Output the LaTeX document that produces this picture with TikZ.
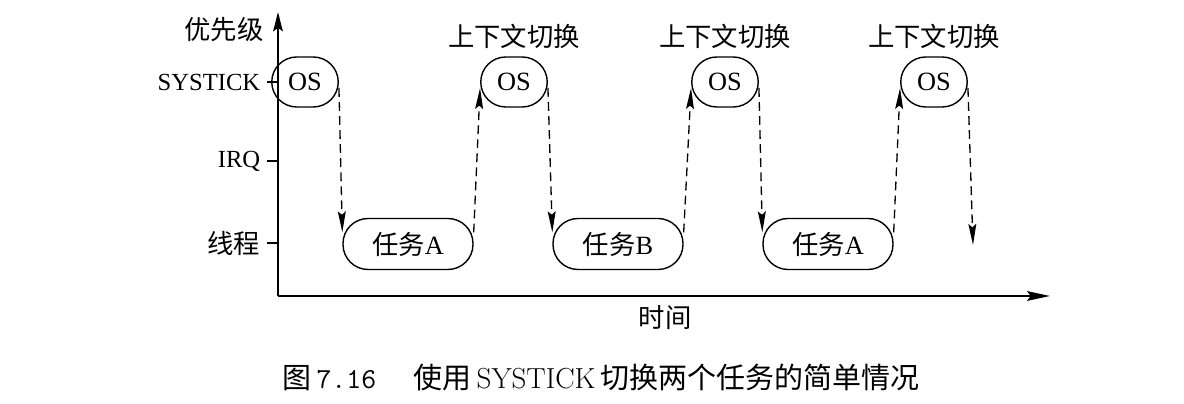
\documentclass[tikz,border=0pt]{standalone}
\usepackage{fontspec}
\newfontfamily\tnr{Liberation Serif}
\newfontfamily\cjk{Noto Sans CJK SC}
\usetikzlibrary{arrows.meta,positioning}
\tikzset{>=Stealth,every node/.style={font=\fontsize{14}{16}\selectfont\tnr},
  osbox/.style={draw,line width=.8pt,rounded corners=.5cm,minimum width=1.33cm,minimum height=1cm,inner sep=0pt,font=\fontsize{15}{17}\selectfont\tnr},
  taskbox/.style={osbox,minimum width=2.6cm,minimum height=1.02cm},
  switch/.style={dashed,dash pattern=on 5pt off 3pt,line width=.75pt,-{Stealth[length=12pt,width=4.5pt,inset=2pt]}},
  axis/.style={line width=1.1pt},
  cn/.style={font=\fontsize{15}{17}\selectfont\cjk}}
\begin{document}
\begin{tikzpicture}[x=.02cm,y=-.02cm]
\useasboundingbox (0,0) rectangle (1184,404);
% axes
\coordinate (origin) at (278,296);\coordinate (ytop) at (278,12);\coordinate (xend) at (1050,296);
\draw[axis,-{Stealth[length=11pt,width=5.5pt,inset=2pt]}] (origin)--(ytop);
\draw[axis,-{Stealth[length=13pt,width=5.5pt,inset=2pt]}] (origin)--(xend);
\node[cn] (prio) at (224,30){优先级};\node[cn] (time) at (665,318){时间};
\draw[axis] (267,82)--(278,82) node[pos=0,left=0pt] (lsys){SYSTICK};
\draw[axis] (267,161)--(278,161) node[pos=0,left=0pt] (lirq){IRQ};
\draw[axis] (267,243)--(278,243) node[pos=0,left=0pt,cn] (lthr){线程};
% OS and tasks
\node[osbox] (os1) at (305,82){OS};\node[osbox] (os2) at (514,82){OS};
\node[osbox] (os3) at (725,82){OS};\node[osbox] (os4) at (934,82){OS};
\node[taskbox] (ta1) at (408,244){{\cjk 任务}A};\node[taskbox] (tb) at (618,244){{\cjk 任务}B};
\node[taskbox] (ta2) at (828,244){{\cjk 任务}A};
\foreach \o in {os2,os3,os4}\node[cn,above=1pt of \o] (ctx-\o){上下文切换};
\coordinate (tail) at (973,245);
\draw[switch] (os1.-10)--(ta1.170);\draw[switch] (ta1.10)--(os2.190);
\draw[switch] (os2.-10)--(tb.170);\draw[switch] (tb.10)--(os3.190);
\draw[switch] (os3.-10)--(ta2.170);\draw[switch] (ta2.10)--(os4.190);
\draw[switch] (os4.-10)--(tail);
\node[font=\fontsize{16.5}{18}\selectfont\cjk] (cap) at (601,378){图\,{\ttfamily 7.16}\hspace{1.3em}使用\,{\rmfamily SYSTICK}\,切换两个任务的简单情况};
\end{tikzpicture}
\end{document}
